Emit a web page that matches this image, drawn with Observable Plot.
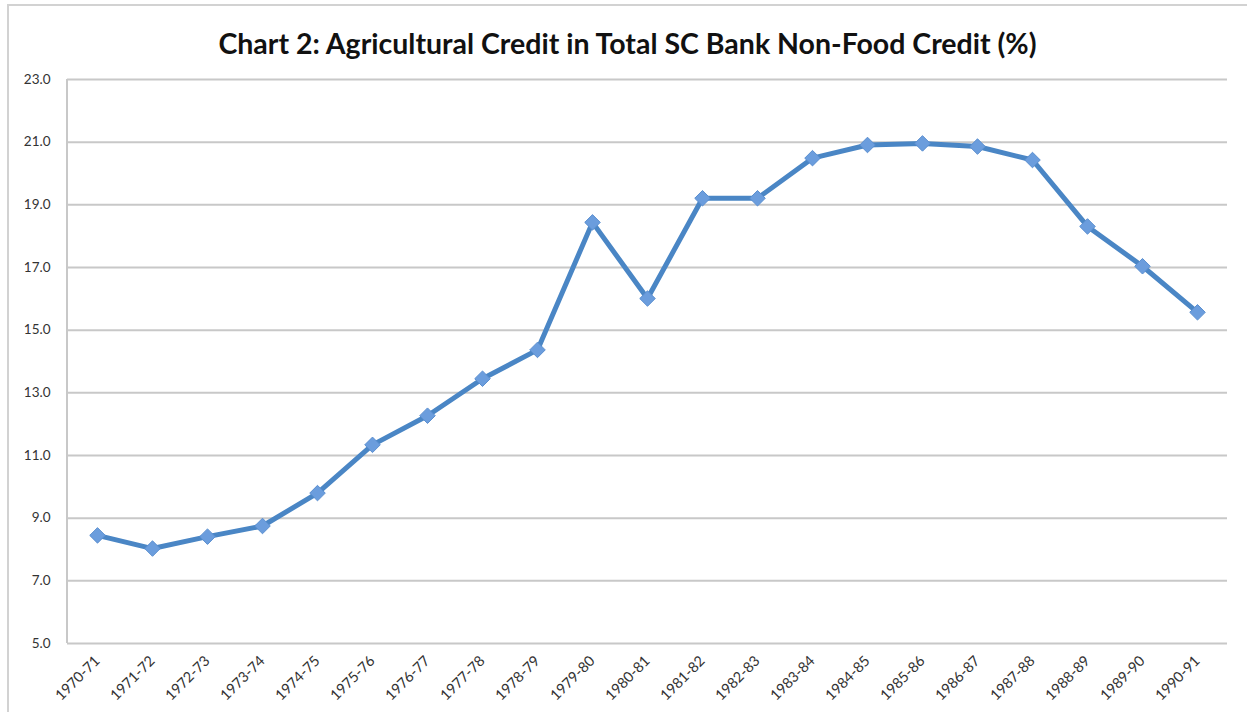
<!DOCTYPE html>
<html>
<head>
<meta charset="utf-8">
<script src="https://cdn.jsdelivr.net/npm/d3@7"></script>
<script src="https://cdn.jsdelivr.net/npm/@observablehq/plot@0.6"></script>
<style>
  html, body { margin: 0; padding: 0; background: #fff; }
  #frame { position: relative; width: 1247px; height: 712px; overflow: hidden; }
  #border { position: absolute; left: 7px; top: 4px; right: -10px; bottom: -10px;
            border-top: 2px solid #d2d2d2; border-left: 2px solid #d2d2d2; }
  #title { position: absolute; left: 0; top: 26px; width: 1247px; height: 34px;
           text-align: center; font-family: Lato, "Open Sans", sans-serif; font-weight: 700;
           font-size: 28.5px; line-height: 34px; color: #111; padding-left: 8px; box-sizing: border-box; }
  #chart { position: absolute; left: 0; top: 60px; }
</style>
</head>
<body>
<div id="frame">
  <div id="border"></div>
  <div id="title">Chart 2: Agricultural Credit in Total SC Bank Non-Food Credit (%)</div>
  <div id="chart"></div>
</div>
<script>
const years = ["1970-71","1971-72","1972-73","1973-74","1974-75","1975-76","1976-77","1977-78","1978-79","1979-80","1980-81","1981-82","1982-83","1983-84","1984-85","1985-86","1986-87","1987-88","1988-89","1989-90","1990-91"];
const share = [8.45, 8.03, 8.41, 8.75, 9.8, 11.34, 12.27, 13.45, 14.37, 18.44, 16.01, 19.21, 19.21, 20.49, 20.91, 20.96, 20.86, 20.43, 18.31, 17.04, 15.57];
const yTicks = [5, 7, 9, 11, 13, 15, 17, 19, 21, 23];

const data = years.map((y, i) => ({year: y, value: share[i]}));

const plot = Plot.plot({
  width: 1247,
  height: 652,
  marginTop: 19,
  marginBottom: 69,
  marginLeft: 67,
  marginRight: 20,
  style: {fontFamily: "Lato, 'Open Sans', sans-serif", fontSize: "13px", color: "#333", background: "transparent"},
  x: {type: "point", domain: years, padding: 0.5, label: null},
  y: {domain: [5, 23], label: null},
  marks: [
    Plot.gridY(yTicks, {stroke: "#c8c8c8", strokeOpacity: 1, strokeWidth: 2}),
    Plot.axisY(yTicks, {tickSize: 0, tickPadding: 17, tickFormat: d3.format(".1f"), fill: "#333", fontSize: 13.5}),
    Plot.axisX({tickSize: 0, tickRotate: -45, tickPadding: 15, fill: "#333", fontSize: 14.5}),
    Plot.line(data, {x: "year", y: "value", stroke: "#4a86c5", strokeWidth: 5, strokeLinejoin: "round"}),
    Plot.dot(data, {x: "year", y: "value", symbol: "diamond2", r: 7, fill: "#6b9ddd", stroke: "#5a8fd0", strokeWidth: 1})
  ]
});
document.getElementById("chart").appendChild(plot);

// left axis line drawn through the scale
const svg = d3.select(plot);
const ys = plot.scale("y");
svg.insert("line", ":first-child")
  .attr("x1", 67).attr("x2", 67)
  .attr("y1", ys.apply(23)).attr("y2", ys.apply(5))
  .attr("stroke", "#c8c8c8").attr("stroke-width", 2);
</script>
</body>
</html>
